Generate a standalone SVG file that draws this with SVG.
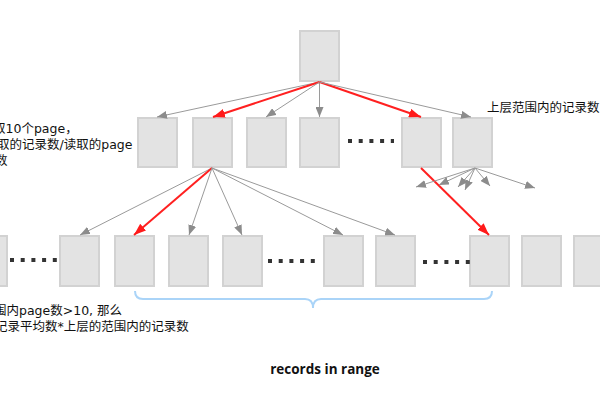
<svg xmlns="http://www.w3.org/2000/svg" width="600" height="400" viewBox="0 0 600 400">
<style>
.box{fill:#e3e3e3;stroke:#d2d2d2;stroke-width:2}
.g{stroke:#9a9a9a;stroke-width:1;fill:none;marker-end:url(#ag)}
.r{stroke:#ff2020;stroke-width:2;fill:none;marker-end:url(#ar)}
.dots{stroke:#333;stroke-width:4;stroke-dasharray:4 6.7;fill:none}
.t{font-family:"DejaVu Sans","Noto Sans CJK SC",sans-serif;font-size:12.5px;fill:#111}
.b{font-family:"Open Sans","Liberation Sans",sans-serif;font-size:13.5px;font-weight:bold;fill:#111}
</style>
<defs>
<marker id="ag" viewBox="0 0 10 8" refX="10" refY="4" markerWidth="10" markerHeight="8" markerUnits="userSpaceOnUse" orient="auto"><path d="M0,0 L10,4 L0,8 z" fill="#8c8c8c"/></marker>
<marker id="ar" viewBox="0 0 12 9" refX="12" refY="4.5" markerWidth="12" markerHeight="9" markerUnits="userSpaceOnUse" orient="auto"><path d="M0,0 L12,4.5 L0,9 z" fill="#ff1a1a"/></marker>
</defs>
<rect width="600" height="400" fill="#fff"/>
<g id="root"><rect class="box" x="300" y="31" width="39" height="50"/></g>
<g id="l2-1"><rect class="box" x="138" y="118" width="39" height="49"/></g>
<g id="l2-2"><rect class="box" x="193" y="118" width="39" height="49"/></g>
<g id="l2-3"><rect class="box" x="247" y="118" width="39" height="49"/></g>
<g id="l2-4"><rect class="box" x="300" y="118" width="39" height="49"/></g>
<g id="l2-5"><rect class="box" x="402" y="118" width="39" height="49"/></g>
<g id="l2-6"><rect class="box" x="453" y="118" width="39" height="49"/></g>
<g id="l3-0"><rect class="box" x="-32" y="236" width="39" height="50"/></g>
<g id="l3-1"><rect class="box" x="60" y="236" width="39" height="50"/></g>
<g id="l3-2"><rect class="box" x="115" y="236" width="39" height="50"/></g>
<g id="l3-3"><rect class="box" x="169" y="236" width="39" height="50"/></g>
<g id="l3-4"><rect class="box" x="223" y="236" width="39" height="50"/></g>
<g id="l3-5"><rect class="box" x="324" y="236" width="39" height="50"/></g>
<g id="l3-6"><rect class="box" x="376" y="236" width="39" height="50"/></g>
<g id="l3-7"><rect class="box" x="470" y="236" width="39" height="50"/></g>
<g id="l3-8"><rect class="box" x="522" y="236" width="39" height="50"/></g>
<g id="l3-9"><rect class="box" x="574" y="236" width="39" height="50"/></g>
<g id="ellipses">
<line class="dots" x1="348" y1="141" x2="394" y2="141"/>
<line class="dots" x1="10" y1="260" x2="57" y2="260"/>
<line class="dots" x1="268" y1="261" x2="315" y2="261"/>
<line class="dots" x1="423" y1="262" x2="470" y2="262"/>
</g>
<g id="connectors">
<line class="g" x1="319.5" y1="82" x2="157" y2="117"/>
<line class="r" x1="319.5" y1="82" x2="213" y2="117"/>
<line class="g" x1="319.5" y1="82" x2="266" y2="117"/>
<line class="g" x1="319.5" y1="82" x2="319.5" y2="117"/>
<line class="r" x1="319.5" y1="82" x2="421" y2="117"/>
<line class="g" x1="319.5" y1="82" x2="471" y2="117"/>
<line class="g" x1="212" y1="168" x2="80" y2="235"/>
<line class="r" x1="212" y1="168" x2="134" y2="235"/>
<line class="g" x1="212" y1="168" x2="189" y2="235"/>
<line class="g" x1="212" y1="168" x2="242" y2="235"/>
<line class="g" x1="212" y1="168" x2="343" y2="235"/>
<line class="g" x1="212" y1="168" x2="395" y2="235"/>
<line class="r" x1="421" y1="168" x2="489" y2="235"/>
<line class="g" x1="475" y1="168" x2="416" y2="187"/>
<line class="g" x1="475" y1="168" x2="439" y2="185"/>
<line class="g" x1="475" y1="168" x2="458" y2="187"/>
<line class="g" x1="475" y1="168" x2="465" y2="190"/>
<line class="g" x1="475" y1="168" x2="490" y2="186"/>
<line class="g" x1="475" y1="168" x2="535" y2="188"/>
</g>
<g id="brace">
<path d="M135,291 Q135,299 143,299 L305,299 Q313,299 313,308 Q313,299 321,299 L484,299 Q492,299 492,291" fill="none" stroke="#aad4f8" stroke-width="2"/>
</g>
<g id="labels">
<text class="t" x="-7" y="133">取10个page，</text>
<text class="t" x="-3" y="149">取的记录数/读取的page</text>
<text class="t" x="-5" y="165">数</text>
<text class="t" x="487" y="112">上层范围内的记录数</text>
<text class="t" x="-6" y="315">围内page数&gt;10, 那么</text>
<text class="t" x="-5" y="331">记录平均数*上层的范围内的记录数</text>
<text class="b" x="325" y="374" text-anchor="middle">records in range</text>
</g>
</svg>
